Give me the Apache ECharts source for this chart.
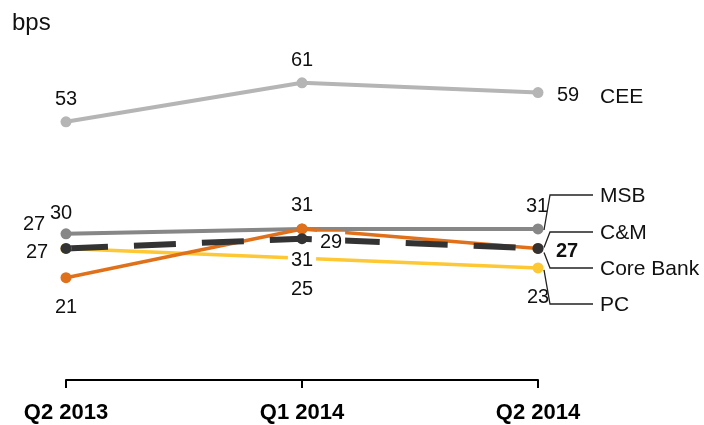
<!DOCTYPE html>
<html>
<head>
<meta charset="utf-8">
<script src="https://cdn.jsdelivr.net/npm/echarts@6/dist/echarts.min.js"></script>
<style>
  html, body { margin: 0; padding: 0; background: #fff; }
  #chart { width: 704px; height: 425px; }
</style>
</head>
<body>
<div id="chart"></div>
<script>
// Quarterly values in basis points
const quarters = ['Q2 2013', 'Q1 2014', 'Q2 2014'];
const cee = [53, 61, 59];
const msb = [30, 31, 31];
const cm = [21, 31, 27];
const coreBank = [27, 29, 27];
const pc = [27, 25, 23];
const unitLabel = 'bps';

const FONT = '"Liberation Sans", Arial, sans-serif';

// Value label offsets (dx, dy) from each point, per quarter
const labelOffsets = {
  cee:      [[0, -22], [0, -22], [30, 3]],
  msb:      [[-5, -20], [0, 31], [-1, -23]],
  pc:       [[-32, -24], [0, 31], [0, 30]],
  cm:       [[0, 30], [0, -24], null],
  coreBank: [[-29, 4], [29, 4], [29, 3]]
};

function lineSeries(name, values, color, width, offsets, extra) {
  return Object.assign({
    name: name,
    type: 'line',
    data: values.map(function (v, i) {
      const off = offsets[i];
      return off
        ? { value: v, label: { offset: off } }
        : { value: v, label: { show: false } };
    }),
    symbol: 'circle',
    symbolSize: 11,
    itemStyle: { color: color },
    lineStyle: { color: color, width: width },
    label: {
      show: true,
      position: 'inside',
      color: '#111',
      fontSize: 20,
      fontFamily: FONT,
      backgroundColor: '#fff',
      padding: [1, 3]
    },
    emphasis: { disabled: true },
    silent: true
  }, extra || {});
}

const chart = echarts.init(document.getElementById('chart'), null, { renderer: 'canvas' });

const coreSeries = lineSeries('Core Bank', coreBank, '#333333', 6, labelOffsets.coreBank, {});
coreSeries.lineStyle.type = [42, 26];
coreSeries.data[2].label.fontWeight = 'bold';

chart.setOption({
  animation: false,
  backgroundColor: '#fff',
  grid: { left: 66, right: 166, top: 39, bottom: 45 },
  xAxis: {
    type: 'category',
    data: quarters,
    boundaryGap: false,
    axisLine: { lineStyle: { color: '#000', width: 2 } },
    axisTick: { show: true, length: 8, lineStyle: { color: '#000', width: 2 } },
    axisLabel: {
      color: '#000',
      fontSize: 22,
      fontWeight: 'bold',
      fontFamily: FONT,
      margin: 22
    }
  },
  yAxis: {
    type: 'value',
    min: 0,
    max: 70,
    show: false,
    splitLine: { show: false }
  },
  series: [
    lineSeries('CEE', cee, '#b5b5b5', 4, labelOffsets.cee),
    lineSeries('MSB', msb, '#878787', 4, labelOffsets.msb),
    lineSeries('PC', pc, '#fdc833', 3.5, labelOffsets.pc),
    lineSeries('C&M', cm, '#e0701a', 3.5, labelOffsets.cm),
    coreSeries
  ]
});

// Series names at the right, joined to the last point by thin leader lines
const lastIdx = quarters.length - 1;
const legendX = 600;
const legendItems = [
  { name: 'CEE', series: 'CEE', y: 96, leader: false },
  { name: 'MSB', series: 'MSB', y: 195, leader: true, dy: 1 },
  { name: 'C&M', series: 'C&M', y: 232, leader: true, dy: -1 },
  { name: 'Core Bank', series: 'Core Bank', y: 268, leader: true, dy: 4 },
  { name: 'PC', series: 'PC', y: 304, leader: true, dy: 2 }
];

function valueAt(name) {
  const map = { 'CEE': cee, 'MSB': msb, 'C&M': cm, 'Core Bank': coreBank, 'PC': pc };
  return map[name][lastIdx];
}

const graphics = [{
  type: 'text',
  left: 12,
  top: 11,
  style: { text: unitLabel, fontSize: 24, fontFamily: FONT, fill: '#111' }
}];

legendItems.forEach(function (item) {
  graphics.push({
    type: 'text',
    x: legendX,
    y: item.y + 1,
    style: {
      text: item.name,
      fontSize: 21,
      fontFamily: FONT,
      fill: '#111',
      verticalAlign: 'middle',
      align: 'left'
    },
    z: 10
  });
  if (item.leader) {
    const p = chart.convertToPixel({ seriesName: item.series }, [lastIdx, valueAt(item.series)]);
    graphics.push({
      type: 'polyline',
      shape: { points: [[p[0] + 6, p[1] + item.dy], [p[0] + 12, item.y], [legendX - 7, item.y]] },
      style: { stroke: '#222', lineWidth: 1.3, fill: null },
      z: 10
    });
  }
});

chart.setOption({ graphic: graphics });
</script>
</body>
</html>
